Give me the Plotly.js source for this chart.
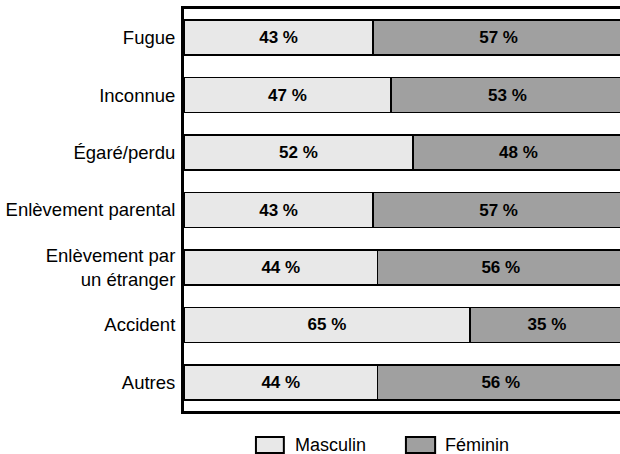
<!DOCTYPE html>
<html>
<head>
<meta charset="utf-8">
<script src="https://cdn.plot.ly/plotly-3.0.1.min.js"></script>
<style>html,body{margin:0;padding:0;background:#fff;}#chart{width:620px;height:454px;}</style>
</head>
<body>
<div id="chart"></div>
<script>
const categories = ["Fugue", "Inconnue", "Égaré/perdu", "Enlèvement parental", "Enlèvement par<br>un étranger", "Accident", "Autres"];
const seriesNames = ["Masculin", "Féminin"];
const masculin = [43, 47, 52, 43, 44, 65, 44];
const feminin = [57, 53, 48, 57, 56, 35, 56];
const colors = ["#e8e8e8", "#a0a0a0"];

const font = "Liberation Sans, Arial, sans-serif";
const values = [masculin, feminin];
const traces = values.map((v, i) => ({
  type: "bar",
  orientation: "h",
  name: seriesNames[i],
  y: categories,
  x: v,
  marker: {color: colors[i], line: {color: "#000", width: 1.6}},
  text: v.map(d => "<b>" + d + " %</b>"),
  textposition: "inside",
  insidetextanchor: "middle",
  textangle: 0,
  constraintext: "none",
  textfont: {family: font, size: 17, color: "#000"},
  hoverinfo: "none",
  cliponaxis: true
}));

const legendShapes = [];
const legendAnn = [];
const boxX = [[0.165, 0.229], [0.509, 0.576]];
const textX = [0.250, 0.594];
seriesNames.forEach((n, i) => {
  legendShapes.push({type: "rect", xref: "paper", yref: "paper",
    x0: boxX[i][0], x1: boxX[i][1], y0: -0.1045, y1: -0.0647,
    fillcolor: colors[i], line: {color: "#000", width: 2}});
  legendAnn.push({xref: "paper", yref: "paper", x: textX[i], y: -0.0846,
    xanchor: "left", yanchor: "middle", text: n, showarrow: false,
    font: {family: font, size: 18, color: "#000"}});
});

const layout = {
  width: 620, height: 454,
  margin: {l: 184, r: 0, t: 9, b: 43, pad: 0},
  paper_bgcolor: "#fff", plot_bgcolor: "#fff",
  barmode: "stack",
  bargap: 0.39,
  showlegend: false,
  font: {family: font, size: 18, color: "#000"},
  xaxis: {range: [0, 99.1], showgrid: false, zeroline: false, showticklabels: false,
    ticks: "", showline: true, mirror: true, linecolor: "#000", linewidth: 3, fixedrange: true},
  yaxis: {autorange: "reversed", showgrid: false, zeroline: false, ticks: "outside", ticklen: 2,
    tickcolor: "rgba(0,0,0,0)", showline: true, linecolor: "#000", linewidth: 3,
    tickfont: {family: font, size: 18.5, color: "#000"}, fixedrange: true},
  shapes: legendShapes,
  annotations: legendAnn
};

Plotly.newPlot("chart", traces, layout, {staticPlot: true, displayModeBar: false});
</script>
</body>
</html>
